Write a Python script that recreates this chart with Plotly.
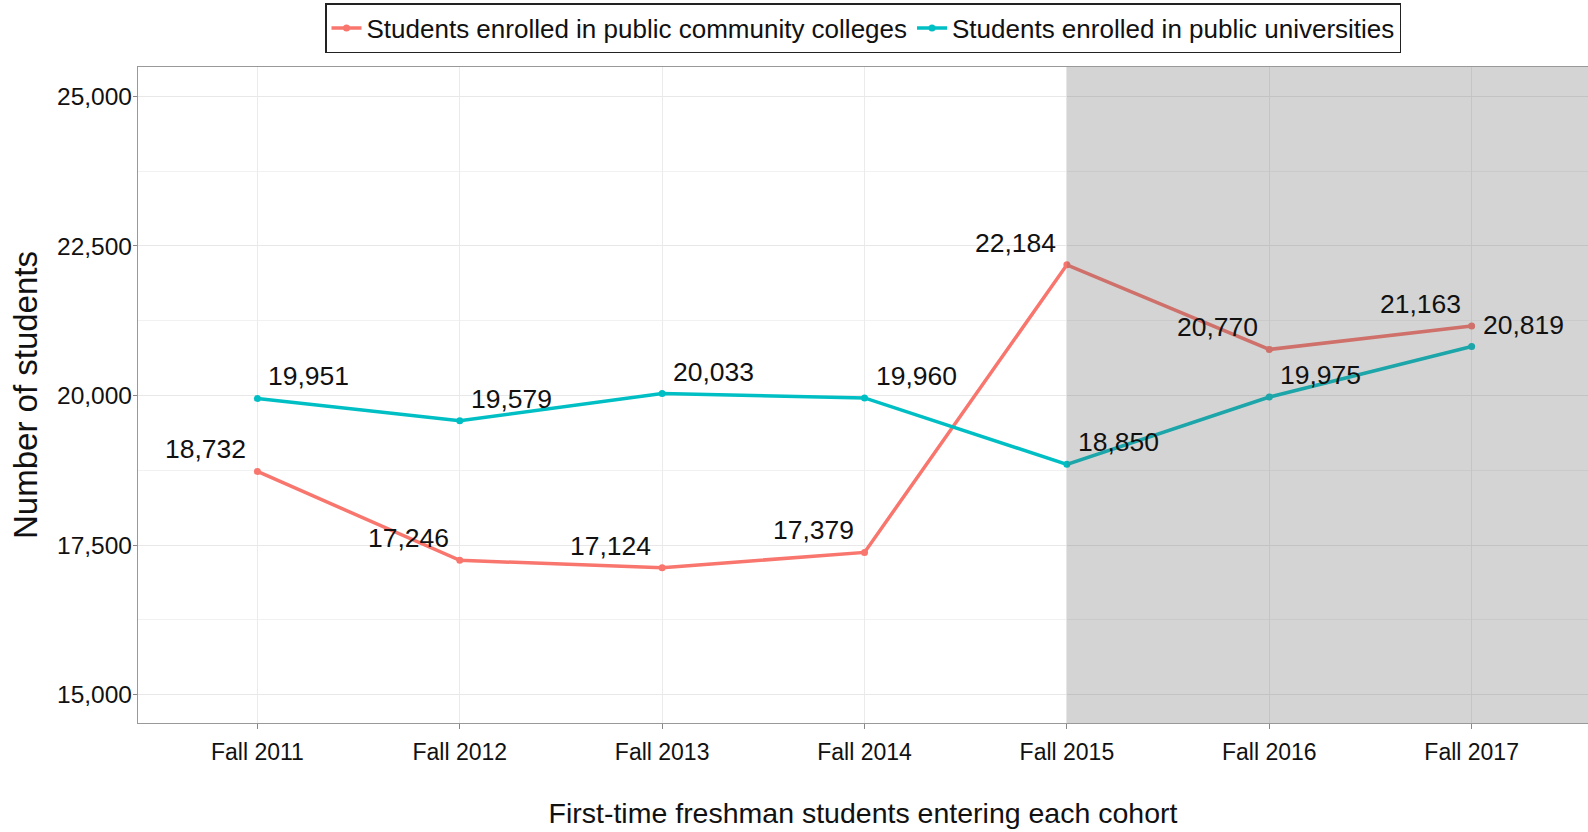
import plotly.graph_objects as go

categories = ["Fall 2011", "Fall 2012", "Fall 2013", "Fall 2014", "Fall 2015", "Fall 2016", "Fall 2017"]
community = [18732, 17246, 17124, 17379, 22184, 20770, 21163]
universities = [19951, 19579, 20033, 19960, 18850, 19975, 20819]
series_names = ["Students enrolled in public community colleges", "Students enrolled in public universities"]
y_ticks = [15000, 17500, 20000, 22500, 25000]
shade_start = "Fall 2015"

RED = "#F8766D"
CYAN = "#00BFC4"
FONT = "Liberation Sans, Arial, sans-serif"

xi = list(range(len(categories)))

fig = go.Figure()
fig.add_trace(go.Scatter(x=xi, y=community, mode="lines+markers", name=series_names[0],
                         line=dict(color=RED, width=3.5), marker=dict(color=RED, size=7)))
fig.add_trace(go.Scatter(x=xi, y=universities, mode="lines+markers", name=series_names[1],
                         line=dict(color=CYAN, width=3.5), marker=dict(color=CYAN, size=7)))

annotations = []
for i, v in enumerate(community):
    annotations.append(dict(x=i, y=v, xref="x", yref="y", text=f"{v:,}", showarrow=False,
                            xanchor="right", yanchor="middle", xshift=-9, yshift=22,
                            font=dict(family=FONT, size=26.5, color="#111")))
for i, v in enumerate(universities):
    annotations.append(dict(x=i, y=v, xref="x", yref="y", text=f"{v:,}", showarrow=False,
                            xanchor="left", yanchor="middle", xshift=9, yshift=22,
                            font=dict(family=FONT, size=26.5, color="#111")))

s = categories.index(shade_start)
fig.add_shape(type="rect", xref="x", yref="paper", x0=s, x1=7, y0=0, y1=1,
              fillcolor="rgba(100,100,100,0.28)", line=dict(width=0), layer="above")

fig.update_layout(
    width=1588, height=832,
    margin=dict(l=138, r=0, t=67, b=109, autoexpand=False),
    paper_bgcolor="white", plot_bgcolor="white",
    font=dict(family=FONT, color="#111"),
    showlegend=True,
    legend=dict(orientation="h", x=0.5, xanchor="center", y=1.021, yanchor="bottom",
                yref="paper", bordercolor="#222", borderwidth=1.5,
                font=dict(size=26, family=FONT, color="#111"), itemwidth=30,
                tracegroupgap=0),
    annotations=annotations,
    xaxis=dict(range=[-0.59, 6.575], tickvals=xi, ticktext=categories, automargin=False,
               showgrid=True, gridcolor="#EBEBEB", gridwidth=1,
               ticks="outside", ticklen=5, tickcolor="#888", ticklabelstandoff=3,
               tickfont=dict(size=23, family=FONT, color="#111"),
               showline=True, linecolor="#999", linewidth=1.2, mirror=True, zeroline=False,
               title=dict(text="First-time freshman students entering each cohort",
                          font=dict(size=28.5, family=FONT, color="#111"), standoff=39)),
    yaxis=dict(range=[14528, 25490], tickvals=y_ticks, ticktext=[f"{t:,}" for t in y_ticks],
               automargin=False,
               showgrid=True, gridcolor="#E8E8E8", gridwidth=1.3,
               minor=dict(tickvals=[16250, 18750, 21250, 23750], showgrid=True,
                          gridcolor="#F1F1F1", gridwidth=1, ticks=""),
               ticks="outside", ticklen=4, tickcolor="#888", ticklabelstandoff=-4,
               tickfont=dict(size=24.5, family=FONT, color="#111"),
               showline=True, linecolor="#999", linewidth=1.2, mirror=True, zeroline=False,
               title=dict(text="Number of students",
                          font=dict(size=33, family=FONT, color="#111"), standoff=9)),
)

fig.write_html("out.html", config={"displayModeBar": False},
               post_script="document.body.style.margin='0';document.body.style.overflow='hidden';")
